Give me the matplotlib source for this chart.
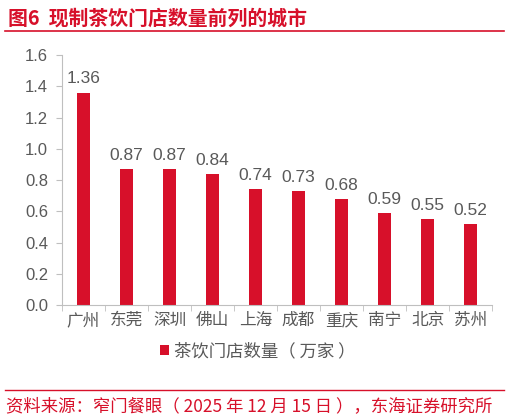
import matplotlib
matplotlib.use("Agg")
import matplotlib.pyplot as plt
from matplotlib.lines import Line2D
import numpy as np

plt.rcParams['font.family'] = ['Noto Sans CJK SC', 'DejaVu Sans']

cities = ['广州', '东莞', '深圳', '佛山', '上海', '成都', '重庆', '南宁', '北京', '苏州']
stores = [1.36, 0.87, 0.87, 0.84, 0.74, 0.73, 0.68, 0.59, 0.55, 0.52]
yticks = [0.0, 0.2, 0.4, 0.6, 0.8, 1.0, 1.2, 1.4, 1.6]

red = '#D7102A'
grey = '#595959'
spine = '#BFBFBF'

fig = plt.figure(figsize=(5.09, 4.19), dpi=100)
ax = fig.add_axes([0.1218, 0.272, 0.845, 0.5967])

x = np.arange(len(cities))
ax.bar(x, stores, width=0.3, color=red, label='茶饮门店数量（ 万家 ）')
for xi, v in zip(x, stores):
    ax.text(xi, v + 0.04, f'{v:.2f}', ha='center', va='bottom', fontsize=12.5, color=grey,
            family=['Liberation Sans', 'DejaVu Sans'])

ax.set_xlim(-0.5, len(cities) - 0.5)
ax.set_ylim(0, 1.6)
ax.set_yticks(yticks)
ax.set_yticklabels([f'{t:.1f}' for t in yticks], family=['Liberation Sans', 'DejaVu Sans'])
ax.set_xticks(x)
ax.set_xticklabels(cities)
ax.set_xticks(np.arange(-0.5, len(cities)), minor=True)
ax.tick_params(axis='x', which='major', length=0, labelsize=12, labelcolor=grey, pad=5)
ax.tick_params(axis='x', which='minor', length=4, color=spine, direction='out')
ax.tick_params(axis='y', length=4, color=spine, labelsize=12, labelcolor=grey, pad=6)
for s in ['top', 'right']:
    ax.spines[s].set_visible(False)
ax.spines['left'].set_color(spine)
ax.spines['bottom'].set_color(spine)

ax.legend(loc='upper center', bbox_to_anchor=(0.455, -0.085), frameon=False, fontsize=12.5,
          handlelength=0.5, handleheight=0.5, handletextpad=0.3, labelcolor=grey)

fig.text(0.016, 0.957, '图6  现制茶饮门店数量前列的城市', fontsize=14.3, fontweight='bold',
         color=red, va='center')
fig.add_artist(Line2D([0.01, 0.99], [0.926, 0.926], color=red, lw=1.2))
fig.add_artist(Line2D([0.01, 0.99], [0.069, 0.069], color=red, lw=1.0))
fig.text(0.012, 0.031, '资料来源：窄门餐眼（ 2025 年 12 月 15 日 ），东海证券研究所', fontsize=12.5,
         color=red, va='center')

fig.savefig('out.png', dpi=100)
